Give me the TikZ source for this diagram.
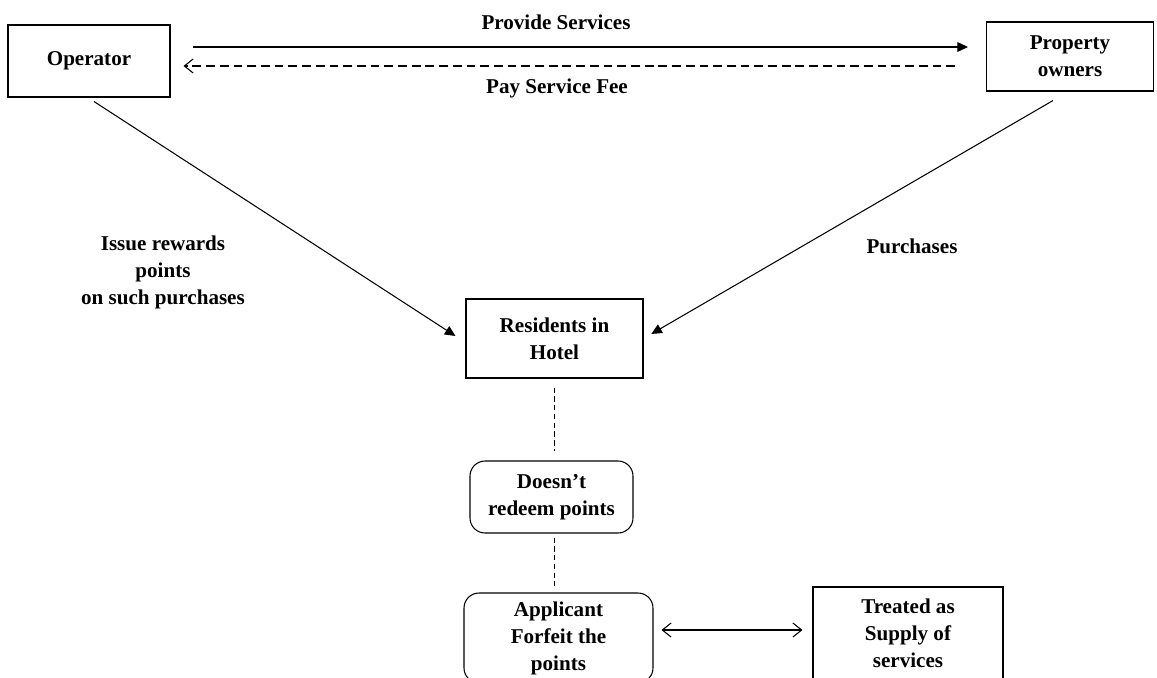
\documentclass[tikz,border=0pt]{standalone}
\usepackage{fontspec}
\setmainfont{Liberation Serif}
\usetikzlibrary{arrows.meta,positioning,calc}

\begin{document}
\begin{tikzpicture}[x=0.02cm, y=-0.02cm,
    box/.style={rectangle, draw, line width=0.6pt, inner sep=0pt, align=center, font=\fontsize{12}{15.4}\selectfont\bfseries},
    roundbox/.style={box, rounded corners=0.3cm},
    lbl/.style={align=center, font=\fontsize{12}{15.4}\selectfont\bfseries},
    arrow/.style={-{Triangle[length=6pt, width=5.5pt]}, line width=0.6pt},
    backarrow/.style={-{Straight Barb[length=5pt, width=8pt]}, line width=0.6pt, dash pattern=on 5pt off 2.8pt},
    link/.style={line width=0.6pt, dash pattern=on 3pt off 2pt},
    twoway/.style={{Straight Barb[length=5pt, width=8pt]}-{Straight Barb[length=5pt, width=8pt]}, line width=0.6pt}
]
\clip (0,0) rectangle (1157,677);

% Boxes
\node[box, minimum width=3.24cm, minimum height=1.44cm] (op) at (89,61) {Operator};
\node[box, minimum width=3.34cm, minimum height=1.38cm] (prop) at (1070,56.5) {Property\\owners};
\node[box, minimum width=3.54cm, minimum height=1.58cm] (res) at (554.5,338.5) {Residents in\\Hotel};
\node[roundbox, minimum width=3.26cm, minimum height=1.44cm] (noredeem) at (551.5,497) {Doesn't\\redeem points};
\node[roundbox, minimum width=3.78cm, minimum height=1.8cm] (forfeit) at (558.5,638) {Applicant\\Forfeit the\\points};
\node[box, minimum width=3.8cm, minimum height=1.84cm] (supply) at (908,633) {Treated as\\Supply of\\services};

% Top arrows
\draw[arrow, shorten <=0.44cm, shorten >=0.36cm] (op.east |- 0,47) -- (prop.west |- 0,47);
\draw[backarrow, shorten <=0.62cm, shorten >=0.26cm] (prop.west |- 0,66) -- (op.east |- 0,66);
\node[lbl] (provide) at (556,22) {Provide Services};
\node[lbl] (payfee) at (557,88) {Pay Service Fee};

% Diagonal arrows
\coordinate (opfoot) at ($(op.south)+(5,4)$);
\coordinate (propfoot) at ($(prop.south)+(-17,9)$);
\draw[arrow, shorten >=0.24cm] (opfoot) -- ($(res.west)+(0,4)$);
\draw[arrow, shorten >=0.18cm] (propfoot) -- (res.east);
\node[lbl] (issue) at (163,272) {Issue rewards\\points\\on such purchases};
\node[lbl] (purch) at (912,246) {Purchases};

% Lower chain
\draw[link, shorten <=0.18cm, shorten >=0.18cm] (res.south) -- (noredeem.north -| res.south);
\draw[link, shorten <=0.08cm, shorten >=0.12cm] (noredeem.south -| res.south) -- (forfeit.north -| res.south);
\draw[twoway, shorten <=0.16cm, shorten >=0.2cm] (forfeit.east |- 0,630) -- (supply.west |- 0,630);

\end{tikzpicture}
\end{document}
